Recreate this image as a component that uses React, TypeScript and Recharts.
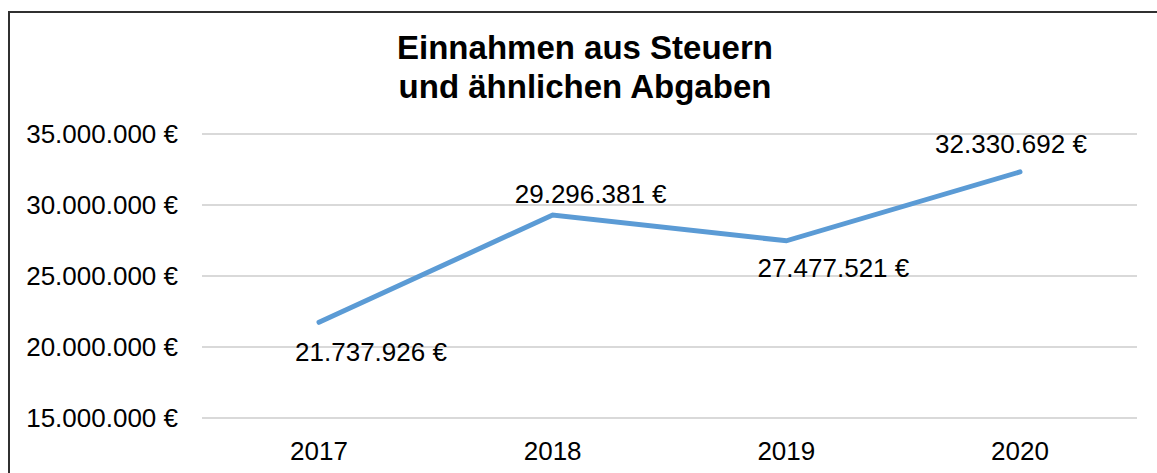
import { LineChart, Line, XAxis, YAxis, CartesianGrid, LabelList } from "recharts"

const years = ["2017", "2018", "2019", "2020"]
const revenue = [21737926, 29296381, 27477521, 32330692]
const yTicks = [15000000, 20000000, 25000000, 30000000, 35000000]

// label nudges (dx, dy) relative to each point, as placed in the original
const labelDx = [52, 38, 47, -9]
const labelDy = [30, -21, 27, -28]

const data = years.map((year, i) => ({ year, value: revenue[i] }))

const fmt = (v: number) => v.toLocaleString("de-DE") + " €"
const font = "'Liberation Sans', Arial, sans-serif"

const ValueLabel = (props: any) => {
  const { x, y, index, value } = props
  return (
    <text
      x={x + labelDx[index]}
      y={y + labelDy[index]}
      textAnchor="middle"
      dominantBaseline="central"
      fontSize={26}
      fontFamily={font}
      fill="#000"
    >
      {fmt(value)}
    </text>
  )
}

export default function App() {
  return (
    <div style={{ position: "absolute", left: 0, top: 0, width: 1157, height: 473, background: "#fff", overflow: "hidden" }}>
      <div
        style={{
          position: "absolute",
          left: 8,
          top: 11,
          width: 1200,
          height: 500,
          borderTop: "2px solid #303030",
          borderLeft: "2px solid #303030",
        }}
      />
      <div
        style={{
          position: "absolute",
          left: 0,
          top: 28,
          width: 1170,
          textAlign: "center",
          fontFamily: font,
          fontWeight: "bold",
          fontSize: 33,
          lineHeight: "39px",
          color: "#000",
        }}
      >
        Einnahmen aus Steuern
        <br />
        und ähnlichen Abgaben
      </div>
      <div style={{ position: "absolute", left: 0, top: 0 }}>
        <LineChart width={1157} height={473} data={data} margin={{ top: 134, right: 20, bottom: 0, left: 0 }}>
          <CartesianGrid vertical={false} stroke="#D9D9D9" strokeWidth={2} />
          <XAxis
            dataKey="year"
            axisLine={false}
            tickLine={false}
            tickSize={0}
            tickMargin={24}
            height={55}
            padding={{ left: 117, right: 117 }}
            tick={{ fontSize: 26, fill: "#000", fontFamily: font }}
          />
          <YAxis
            domain={[15000000, 35000000]}
            ticks={yTicks}
            tickFormatter={fmt}
            axisLine={false}
            tickLine={false}
            tickSize={0}
            tickMargin={24}
            width={202}
            tick={{ fontSize: 26, fill: "#000", fontFamily: font }}
          />
          <Line
            dataKey="value"
            stroke="#5B9BD5"
            strokeWidth={5}
            strokeLinecap="round"
            dot={false}
            isAnimationActive={false}
          >
            <LabelList dataKey="value" content={ValueLabel} />
          </Line>
        </LineChart>
      </div>
    </div>
  )
}
